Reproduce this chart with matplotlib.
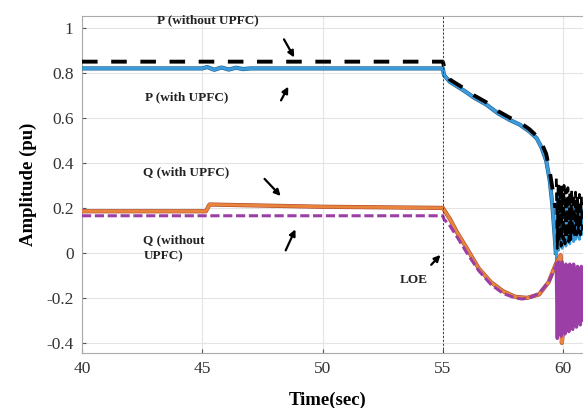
import matplotlib
matplotlib.use("Agg")
import matplotlib.pyplot as plt
import matplotlib.patheffects as pe

# ---------------- data ----------------
# P without UPFC (black dashed)
t_p_no = [40.0, 55.0, 55.05, 55.15, 55.3, 55.6, 55.9, 56.3, 56.8, 57.3, 57.8,
          58.2, 58.6, 58.9, 59.1, 59.3, 59.45, 59.6, 59.68]
p_no = [0.85, 0.85, 0.83, 0.80, 0.77, 0.75, 0.73, 0.70, 0.67, 0.63, 0.60,
        0.58, 0.55, 0.52, 0.49, 0.44, 0.36, 0.26, 0.20]

# P with UPFC (blue)
t_p_up = [40.0, 45.0, 45.2, 45.5, 45.8, 46.1, 46.4, 46.7, 47.0, 55.0, 55.05,
          55.3, 55.6, 55.9, 56.3, 56.8, 57.3, 57.8, 58.2, 58.6, 58.9, 59.1,
          59.3, 59.45, 59.55, 59.65, 59.7]
p_up = [0.82, 0.82, 0.826, 0.814, 0.824, 0.815, 0.823, 0.817, 0.82, 0.82, 0.79,
        0.76, 0.74, 0.72, 0.69, 0.66, 0.62, 0.59, 0.57, 0.54, 0.51, 0.47,
        0.41, 0.32, 0.22, 0.08, 0.0]

# Q with UPFC (orange)
t_q_up = [40.0, 45.15, 45.3, 50.0, 55.0, 55.3, 55.6, 56.0, 56.5, 57.0, 57.5,
          58.0, 58.5, 59.0, 59.4, 59.7, 59.9, 59.95, 60.0]
q_up = [0.185, 0.185, 0.215, 0.205, 0.20, 0.15, 0.09, 0.02, -0.07, -0.13, -0.17,
        -0.195, -0.20, -0.185, -0.13, -0.05, -0.01, -0.40, -0.35]

# Q without UPFC (purple dashed)
t_q_no = [40.0, 55.0, 55.05, 55.3, 55.6, 56.0, 56.5, 57.0, 57.5, 58.0, 58.3,
          58.6, 59.0, 59.4, 59.7]
q_no = [0.165, 0.165, 0.15, 0.12, 0.07, 0.0, -0.08, -0.14, -0.18, -0.20, -0.205,
        -0.20, -0.18, -0.13, -0.06]

# post-event oscillations
t_osc = [59.72, 59.76, 59.80, 59.84, 59.88, 59.92, 59.96, 60.00, 60.04, 60.08,
         60.12, 60.16, 60.20, 60.24, 60.28, 60.32, 60.36, 60.40, 60.44, 60.48,
         60.52, 60.56, 60.60, 60.64, 60.68, 60.72, 60.76, 60.80]
p_no_osc = [0.33, 0.02, 0.31, 0.05, 0.30, 0.03, 0.29, 0.06, 0.30, 0.04,
            0.28, 0.07, 0.29, 0.05, 0.27, 0.06, 0.28, 0.08, 0.26, 0.07,
            0.27, 0.08, 0.25, 0.09, 0.26, 0.08, 0.25, 0.10]
p_up_osc = [-0.04, 0.26, 0.01, 0.24, 0.03, 0.25, 0.02, 0.23, 0.04, 0.24,
            0.03, 0.22, 0.05, 0.23, 0.04, 0.21, 0.06, 0.22, 0.05, 0.21,
            0.06, 0.20, 0.07, 0.21, 0.06, 0.20, 0.08, 0.19]
q_no_osc = [-0.05, -0.38, -0.04, -0.36, -0.05, -0.37, -0.04, -0.35, -0.06, -0.36,
            -0.05, -0.34, -0.06, -0.35, -0.05, -0.33, -0.06, -0.34, -0.05, -0.32,
            -0.07, -0.33, -0.06, -0.31, -0.07, -0.32, -0.06, -0.30]

x_ticks = [40, 45, 50, 55, 60]
y_ticks = [-0.4, -0.2, 0, 0.2, 0.4, 0.6, 0.8, 1]
y_ticklabels = ["-0.4", "-0.2", "0", "0.2", "0.4", "0.6", "0.8", "1"]
loe_time = 55

# ---------------- figure ----------------
plt.rcParams['font.family'] = ['Liberation Serif', 'DejaVu Serif']
fig = plt.figure(figsize=(5.83, 4.08), dpi=100)
ax = fig.add_axes([0.1407, 0.1348, 0.8593, 0.826])

blue = '#3C9BDB'
blue_edge = '#1D5E8E'
orange = '#E8843C'
orange_edge = '#A8452E'
purple = '#9B3FA6'

ax.plot(t_p_up, p_up, color=blue, lw=2.2, zorder=3,
        path_effects=[pe.Stroke(linewidth=3.0, foreground=blue_edge), pe.Normal()])
ax.plot(t_osc, p_up_osc, color=blue, lw=2.0, zorder=3)
ax.plot(t_p_no, p_no, color='black', lw=2.8, dashes=(4, 3.5), zorder=4)
ax.plot(t_osc, p_no_osc, color='black', lw=2.0, dashes=(3, 2), zorder=4)

ax.plot(t_q_up, q_up, color=orange, lw=2.2, zorder=3,
        path_effects=[pe.Stroke(linewidth=3.0, foreground=orange_edge), pe.Normal()])
ax.plot(t_q_no, q_no, color=purple, lw=2.2, dashes=(3, 1.2), zorder=4)
ax.plot(t_osc, q_no_osc, color=purple, lw=2.4, zorder=4)

ax.axvline(loe_time, color='#333333', lw=0.7, ls=(0, (2, 2)), zorder=5)

ax.set_xlim(40, 60.83)
ax.set_ylim(-0.445, 1.053)
ax.set_xticks(x_ticks)
ax.set_yticks(y_ticks)
ax.set_yticklabels(y_ticklabels)
ax.tick_params(direction='in', length=3, colors='#555555', labelcolor='#333333',
               labelsize=12.5, pad=6)
ax.grid(True, color='#e4e4e4', lw=0.8)
ax.set_axisbelow(True)
for s in ['left', 'bottom', 'top']:
    ax.spines[s].set_color('#aaaaaa')
ax.spines['right'].set_visible(False)

ax.set_xlabel('Time(sec)', fontsize=13.5, fontweight='bold')
ax.xaxis.set_label_coords(0.49, -0.115)
ax.set_ylabel('Amplitude (pu)', fontsize=13.5, fontweight='bold')
ax.yaxis.set_label_coords(-0.09, 0.5)

tkw = dict(fontsize=9.5, fontweight='bold', color='#222222')
akw = dict(arrowstyle='-|>', color='black', lw=1.6, mutation_scale=9)

ax.text(45.23, 1.036, 'P (without UPFC)', ha='center', va='center', **tkw)
ax.annotate('', xy=(48.88, 0.858), xytext=(48.34, 0.96), arrowprops=akw)

ax.text(42.6, 0.69, 'P (with UPFC)', ha='left', va='center', **tkw)
ax.annotate('', xy=(48.63, 0.75), xytext=(48.22, 0.667), arrowprops=akw)

ax.text(42.55, 0.36, 'Q (with UPFC)', ha='left', va='center', **tkw)
ax.annotate('', xy=(48.34, 0.244), xytext=(47.51, 0.338), arrowprops=akw)

ax.text(42.55, 0.022, 'Q (without\nUPFC)', ha='left', va='center',
        linespacing=1.45, **tkw)
ax.annotate('', xy=(48.92, 0.116), xytext=(48.42, 0.0), arrowprops=akw)

ax.text(53.2, -0.12, 'LOE', ha='left', va='center', **tkw)
ax.annotate('', xy=(54.98, 0.0), xytext=(54.44, -0.062), arrowprops=akw)

fig.savefig('out.png', dpi=100)
